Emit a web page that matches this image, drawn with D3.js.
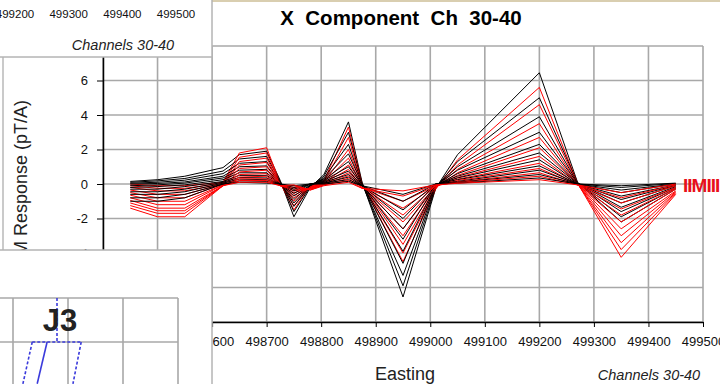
<!DOCTYPE html>
<html>
<head>
<meta charset="utf-8">
<script src="https://cdn.jsdelivr.net/npm/d3@7"></script>
<style>
  body { margin: 0; background: #fff; }
  svg { display: block; font-family: Arial, "Liberation Sans", sans-serif; }
</style>
</head>
<body>
<svg id="chart" width="720" height="384"></svg>
<script>
// stations along the line (Easting)
const stations = [498450, 498500, 498550, 498620, 498650, 498700, 498725, 498750, 498780, 498805,
                  498850, 498875, 498950, 499010, 499050, 499200, 499270, 499350, 499450];

const channels = [30, 31, 32, 33, 34, 35, 36, 37, 38, 39, 40];

// observed response (black), one row per channel
const observed = [
  [0.15, 0.25, 0.45, 0.95, 1.7, 1.9, 0.2, -1.9, -0.2, 0.55, 3.6, 0.1, -6.55, -0.25, 1.7, 6.45, 0.1, -2.2, -0.3],
  [0.1, 0.18, 0.32, 0.75, 1.45, 1.6, 0.15, -1.6, -0.15, 0.45, 3.0, 0.05, -5.9, -0.2, 1.3, 5.0, 0.08, -1.9, -0.25],
  [0.05, 0.1, 0.22, 0.6, 1.2, 1.3, 0.1, -1.3, -0.1, 0.35, 2.3, 0, -5.3, -0.15, 1.0, 3.9, 0.05, -1.6, -0.2],
  [0, 0.03, 0.12, 0.45, 1.0, 1.05, 0.05, -1.1, -0.1, 0.3, 1.75, 0, -4.6, -0.1, 0.8, 3.0, 0.05, -1.35, -0.15],
  [-0.1, -0.05, 0.05, 0.35, 0.8, 0.85, 0, -0.9, -0.05, 0.25, 1.3, -0.05, -3.9, -0.1, 0.6, 2.3, 0.03, -1.1, -0.1],
  [-0.2, -0.15, -0.05, 0.25, 0.65, 0.65, 0, -0.7, -0.05, 0.2, 1.0, -0.05, -3.2, -0.05, 0.45, 1.8, 0.02, -0.9, -0.08],
  [-0.3, -0.3, -0.15, 0.15, 0.5, 0.5, 0, -0.55, 0, 0.15, 0.75, -0.1, -2.6, -0.05, 0.35, 1.4, 0, -0.7, -0.05],
  [-0.45, -0.45, -0.3, 0.1, 0.38, 0.35, 0, -0.4, 0, 0.1, 0.55, -0.1, -2.0, 0, 0.25, 1.05, 0, -0.5, 0],
  [-0.6, -0.6, -0.45, 0.05, 0.28, 0.25, 0, -0.3, 0, 0.05, 0.4, -0.1, -1.5, 0, 0.15, 0.8, 0, -0.35, 0],
  [-0.8, -0.8, -0.6, 0, 0.18, 0.15, 0, -0.2, 0, 0.05, 0.25, -0.1, -1.0, 0, 0.1, 0.55, 0, -0.2, 0.03],
  [-1.0, -1.0, -0.8, 0, 0.1, 0.05, 0, -0.1, 0, 0, 0.15, -0.1, -0.6, 0, 0.05, 0.35, 0, -0.1, 0.05]
];

// modelled response (red), one row per channel
const modelled = [
  [0, -0.1, -0.1, 0.1, 1.8, 2.1, 0.05, -1.5, -0.1, 0.2, 3.3, 0, -4.5, -0.3, 1.4, 5.6, 0.05, -4.25, -0.6],
  [-0.1, -0.25, -0.25, 0.05, 1.55, 1.8, 0.03, -1.25, -0.1, 0.15, 2.7, -0.05, -4.0, -0.25, 1.1, 4.6, 0.03, -3.8, -0.55],
  [-0.2, -0.4, -0.4, 0, 1.3, 1.5, 0, -1.0, -0.15, 0.1, 2.0, -0.05, -3.5, -0.2, 0.85, 3.5, 0, -3.4, -0.5],
  [-0.35, -0.6, -0.6, 0, 1.1, 1.25, 0, -0.8, -0.2, 0.1, 1.5, -0.1, -3.0, -0.2, 0.65, 2.7, 0, -3.0, -0.45],
  [-0.5, -0.8, -0.8, 0, 0.9, 1.0, 0, -0.65, -0.2, 0.05, 1.1, -0.1, -2.6, -0.15, 0.5, 2.1, 0, -2.6, -0.4],
  [-0.65, -1.0, -1.0, -0.05, 0.7, 0.8, -0.05, -0.5, -0.25, 0.05, 0.85, -0.15, -2.2, -0.15, 0.38, 1.6, -0.03, -2.2, -0.3],
  [-0.8, -1.2, -1.2, -0.05, 0.55, 0.6, -0.05, -0.4, -0.25, 0, 0.65, -0.15, -1.8, -0.1, 0.28, 1.2, -0.05, -1.8, -0.25],
  [-0.95, -1.4, -1.4, -0.1, 0.4, 0.45, -0.1, -0.3, -0.3, 0, 0.48, -0.2, -1.4, -0.1, 0.2, 0.9, -0.05, -1.45, -0.2],
  [-1.1, -1.55, -1.55, -0.1, 0.3, 0.3, -0.1, -0.2, -0.3, -0.05, 0.33, -0.2, -1.0, -0.1, 0.12, 0.65, -0.05, -1.1, -0.1],
  [-1.25, -1.7, -1.7, -0.1, 0.2, 0.2, -0.1, -0.1, -0.35, -0.05, 0.2, -0.25, -0.7, -0.05, 0.08, 0.45, -0.05, -0.8, -0.05],
  [-1.4, -1.9, -1.9, -0.1, 0.1, 0.1, -0.1, -0.05, -0.35, -0.1, 0.1, -0.25, -0.4, -0.05, 0.04, 0.25, -0.05, -0.5, 0]
];

const eastingTicks = [498400, 498500, 498600, 498700, 498800, 498900, 499000, 499100, 499200, 499300, 499400, 499500];
const responseTicks = [-8, -6, -4, -2, 0, 2, 4, 6, 8];
const insetTicks = [499200, 499300, 499400, 499500];

// J3 map window: grid and survey outline (map units)
const mapGridX = [0, 100, 200, 300];
const mapGridY = [0, 100];
const mapLines = [
  { pts: [[80, 0], [80, 100]], dash: '3,2' },
  { pts: [[35, 100], [125, 100]], dash: '3,2' },
  { pts: [[35, 100], [18, 195]], dash: '3,2' },
  { pts: [[62, 100], [44, 195]], dash: null },
  { pts: [[124, 100], [109, 195]], dash: '3,2' }
];

const svg = d3.select('#chart');
const gray = '#a8a8a8';

// ---- main window: X Component Ch 30-40 ----
const x = d3.scaleLinear().domain([498400, 499500]).range([103, 703]);
const y = d3.scaleLinear().domain([-8, 8]).range([322, 46]);

svg.append('rect').attr('width', 720).attr('height', 384).attr('fill', '#fff');
svg.append('line').attr('x1', 0).attr('x2', 720).attr('y1', 1).attr('y2', 1)
  .attr('stroke', '#d9ceb0').attr('stroke-width', 2);
svg.append('line').attr('x1', 3).attr('x2', 3).attr('y1', 0).attr('y2', 384)
  .attr('stroke', '#b8b8b8').attr('stroke-width', 1.5);

svg.append('text')
  .attr('x', 401).attr('y', 25)
  .attr('text-anchor', 'middle')
  .style('font-size', '20.5px').style('font-weight', 'bold')
  .style('white-space', 'pre')
  .text('X  Component  Ch  30-40');

const grid = svg.append('g').attr('stroke', gray).attr('stroke-width', 1.6);
grid.selectAll('.gx').data(eastingTicks).enter().append('line')
  .attr('x1', d => x(d)).attr('x2', d => x(d))
  .attr('y1', y(8)).attr('y2', y(-8));
grid.selectAll('.gy').data(responseTicks).enter().append('line')
  .attr('x1', x(498400)).attr('x2', x(499500))
  .attr('y1', d => y(d)).attr('y2', d => y(d));

// labels that sit under the other windows are left blank
svg.append('g')
  .attr('transform', 'translate(' + x(498400) + ',0)')
  .call(d3.axisLeft(y).tickValues(responseTicks).tickSize(6).tickSizeOuter(0).tickPadding(9)
    .tickFormat(d => (d > -6 && d < 8) ? d : ''))
  .call(g => g.selectAll('text').style('font-size', '13px').attr('fill', '#111'))
  .call(g => g.select('.domain').attr('stroke-width', 1.5));

svg.append('g')
  .attr('transform', 'translate(0,' + y(-8) + ')')
  .call(d3.axisBottom(x).tickValues(eastingTicks).tickSize(5).tickSizeOuter(0).tickPadding(10)
    .tickFormat(d => d >= 498600 ? d : ''))
  .call(g => g.selectAll('text').style('font-size', '13px').attr('fill', '#111'))
  .call(g => g.select('.domain').attr('stroke-width', 1.5));

svg.append('text')
  .attr('transform', 'translate(27,184) rotate(-90)')
  .attr('text-anchor', 'middle')
  .style('font-size', '18px').attr('fill', '#222')
  .text('EM Response (pT/A)');

svg.append('text')
  .attr('x', 405).attr('y', 380)
  .attr('text-anchor', 'middle')
  .style('font-size', '18px').attr('fill', '#222')
  .text('Easting');

svg.append('text')
  .attr('x', 649).attr('y', 380)
  .attr('text-anchor', 'middle')
  .style('font-size', '14.5px').style('font-style', 'italic').attr('fill', '#222')
  .text('Channels 30-40');

// profile lines, observed then modelled for each channel
svg.append('clipPath').attr('id', 'plot')
  .append('rect').attr('x', x(498400)).attr('y', y(8))
  .attr('width', x(499500) - x(498400)).attr('height', y(-8) - y(8));

const line = d3.line()
  .x((d, i) => x(stations[i]))
  .y(d => y(d));

const profiles = svg.append('g').attr('clip-path', 'url(#plot)').attr('fill', 'none');
channels.forEach((ch, k) => {
  profiles.append('path').attr('d', line(observed[k]))
    .attr('stroke', '#000').attr('stroke-width', 1);
  profiles.append('path').attr('d', line(modelled[k]))
    .attr('stroke', '#ff0000').attr('stroke-width', 1);
});

svg.append('text')
  .attr('x', 683).attr('y', 192)
  .style('font-size', '19px').style('font-weight', 'bold')
  .attr('fill', '#e8101a').attr('letter-spacing', '-1')
  .text('IIMIII');

// ---- top-left window (part of another profile) ----
const xs = d3.scaleLinear().domain([499200, 499500]).range([15, 176]);
const topWin = svg.append('g');
topWin.append('rect').attr('x', -2).attr('y', -2).attr('width', 214).attr('height', 59)
  .attr('fill', '#fff').attr('stroke', '#b4b4b4').attr('stroke-width', 1.5);
topWin.selectAll('.lbl').data(insetTicks).enter().append('text')
  .attr('x', d => xs(d)).attr('y', 18)
  .attr('text-anchor', 'middle')
  .style('font-size', '11.5px').attr('fill', '#111')
  .text(d => d);
topWin.append('text')
  .attr('x', 123).attr('y', 50)
  .attr('text-anchor', 'middle')
  .style('font-size', '14.5px').style('font-style', 'italic').attr('fill', '#222')
  .text('Channels 30-40');

// ---- bottom-left window (J3 map) ----
const jx = d3.scaleLinear().domain([0, 300]).range([13, 178]);
const jy = d3.scaleLinear().domain([0, 100]).range([298, 342]);
const mapWin = svg.append('g');
mapWin.append('rect').attr('x', -2).attr('y', 250).attr('width', 214).attr('height', 140)
  .attr('fill', '#fff').attr('stroke', '#b4b4b4').attr('stroke-width', 1.5);
mapWin.selectAll('.mx').data(mapGridX).enter().append('line')
  .attr('x1', d => jx(d)).attr('x2', d => jx(d))
  .attr('y1', jy(0)).attr('y2', 384)
  .attr('stroke', gray).attr('stroke-width', 1.6);
mapWin.selectAll('.my').data(mapGridY).enter().append('line')
  .attr('x1', 0).attr('x2', jx(300))
  .attr('y1', d => jy(d)).attr('y2', d => jy(d))
  .attr('stroke', gray).attr('stroke-width', 1.6);

const mapLine = d3.line().x(d => jx(d[0])).y(d => jy(d[1]));
mapWin.selectAll('.ml').data(mapLines).enter().append('path')
  .attr('d', d => mapLine(d.pts))
  .attr('fill', 'none')
  .attr('stroke', '#3b3bdc').attr('stroke-width', 1.6)
  .attr('stroke-dasharray', d => d.dash);

mapWin.append('text')
  .attr('x', 60).attr('y', 331)
  .attr('text-anchor', 'middle')
  .style('font-size', '31px').style('font-weight', 'bold').attr('fill', '#222')
  .text('J3');
</script>
</body>
</html>
